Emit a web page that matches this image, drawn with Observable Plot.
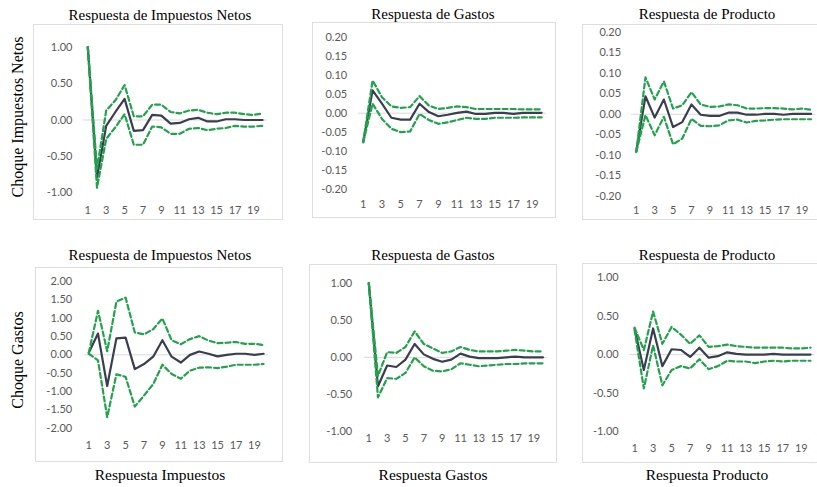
<!DOCTYPE html>
<html>
<head>
<meta charset="utf-8">
<script src="https://cdn.jsdelivr.net/npm/d3@7"></script>
<script src="https://cdn.jsdelivr.net/npm/@observablehq/plot@0.6"></script>
<style>
  html, body { margin: 0; padding: 0; background: #fff; }
  #wrap { position: relative; width: 817px; height: 487px; overflow: hidden; background: #fff; }
  .box { position: absolute; border: 1px solid #dedede; box-sizing: border-box; }
  .plotholder { position: absolute; }
  .title, .rowlab, .collab { position: absolute; font-family: "Liberation Serif", "Times New Roman", serif; color: #000; white-space: nowrap; }
  .title { font-size: 15px; transform: translate(-50%, -50%); }
  .collab { font-size: 15.5px; transform: translate(-50%, -50%); }
  .rowlab { font-size: 16px; transform: translate(-50%, -50%) rotate(-90deg); }
</style>
</head>
<body>
<div id="wrap"></div>
<script>
// ---------- data ----------
const periods = d3.range(1, 21);
const xTickValues = [1, 3, 5, 7, 9, 11, 13, 15, 17, 19];

const titles = ["Respuesta de Impuestos Netos", "Respuesta de Gastos", "Respuesta de Producto",
                "Respuesta de Impuestos Netos", "Respuesta de Gastos", "Respuesta de Producto"];
const rowLabels = ["Choque Impuestos Netos", "Choque Gastos"];
const colLabels = ["Respuesta Impuestos", "Respuesta Gastos", "Respuesta Producto"];

const yTicksA = [-1, -0.5, 0, 0.5, 1];
const yTicksB = [-0.2, -0.15, -0.1, -0.05, 0, 0.05, 0.1, 0.15, 0.2];
const yTicksC = [-2, -1.5, -1, -0.5, 0, 0.5, 1, 1.5, 2];

// Panel 1: shock Impuestos -> Impuestos Netos
const p1Mid = [1.00, -0.79, -0.08, 0.11, 0.29, -0.15, -0.14, 0.07, 0.06, -0.05, -0.04, 0.01, 0.03, -0.02, -0.02, 0.01, 0.01, 0.00, 0.00, 0.00];
const p1Hi  = [1.00, -0.67, 0.13, 0.27, 0.48, 0.05, 0.05, 0.21, 0.21, 0.11, 0.09, 0.13, 0.14, 0.10, 0.08, 0.10, 0.10, 0.08, 0.07, 0.09];
const p1Lo  = [1.00, -0.93, -0.26, -0.10, 0.08, -0.34, -0.34, -0.09, -0.10, -0.19, -0.19, -0.12, -0.11, -0.14, -0.12, -0.11, -0.08, -0.09, -0.09, -0.08];
// Panel 2: shock Impuestos -> Gastos
const p2Mid = [-0.076, 0.060, 0.025, -0.012, -0.017, -0.017, 0.025, 0.003, -0.008, -0.004, 0.001, 0.004, -0.002, -0.002, 0.001, 0.001, -0.002, 0.001, 0.001, 0.001];
const p2Hi  = [-0.076, 0.086, 0.042, 0.018, 0.014, 0.016, 0.045, 0.020, 0.011, 0.014, 0.018, 0.016, 0.011, 0.011, 0.011, 0.011, 0.011, 0.010, 0.010, 0.010];
const p2Lo  = [-0.076, 0.025, -0.015, -0.041, -0.050, -0.048, -0.002, -0.018, -0.028, -0.024, -0.018, -0.012, -0.015, -0.015, -0.012, -0.012, -0.012, -0.011, -0.011, -0.011];
// Panel 3: shock Impuestos -> Producto
const p3Mid = [-0.091, 0.044, -0.008, 0.036, -0.031, -0.019, 0.024, -0.001, -0.004, -0.004, 0.004, 0.004, -0.001, -0.001, 0.001, 0.001, -0.001, 0.001, 0.001, 0.001];
const p3Hi  = [-0.091, 0.090, 0.036, 0.080, 0.014, 0.022, 0.054, 0.024, 0.018, 0.019, 0.024, 0.022, 0.014, 0.014, 0.015, 0.015, 0.014, 0.012, 0.014, 0.011];
const p3Lo  = [-0.091, -0.002, -0.051, -0.006, -0.073, -0.059, -0.011, -0.028, -0.029, -0.027, -0.015, -0.013, -0.020, -0.016, -0.015, -0.013, -0.012, -0.012, -0.012, -0.012];
// Panel 4: shock Gastos -> Impuestos Netos
const p4Mid = [0.06, 0.58, -0.85, 0.45, 0.47, -0.39, -0.25, -0.05, 0.40, -0.05, -0.21, 0.00, 0.09, 0.03, -0.04, 0.00, 0.03, 0.03, 0.00, 0.03];
const p4Hi  = [0.06, 1.20, 0.10, 1.45, 1.56, 0.61, 0.56, 0.70, 0.99, 0.40, 0.29, 0.43, 0.51, 0.39, 0.32, 0.33, 0.35, 0.30, 0.30, 0.27];
const p4Lo  = [0.03, -0.15, -1.70, -0.53, -0.60, -1.41, -1.11, -0.80, -0.27, -0.52, -0.65, -0.43, -0.35, -0.34, -0.36, -0.32, -0.27, -0.27, -0.27, -0.25];
// Panel 5: shock Gastos -> Gastos
const p5Mid = [1.00, -0.39, -0.11, -0.13, -0.03, 0.18, 0.04, -0.02, -0.06, -0.03, 0.05, 0.01, -0.01, -0.01, -0.01, 0.00, 0.01, 0.00, 0.00, 0.00];
const p5Hi  = [1.00, -0.25, 0.07, 0.06, 0.14, 0.35, 0.18, 0.12, 0.06, 0.08, 0.14, 0.10, 0.08, 0.08, 0.08, 0.09, 0.10, 0.09, 0.08, 0.08];
const p5Lo  = [1.00, -0.54, -0.28, -0.29, -0.21, 0.00, -0.12, -0.18, -0.19, -0.16, -0.08, -0.10, -0.12, -0.11, -0.10, -0.09, -0.09, -0.08, -0.08, -0.08];
// Panel 6: shock Gastos -> Producto
const p6Mid = [0.34, -0.20, 0.34, -0.15, 0.07, 0.06, -0.03, 0.09, -0.04, -0.02, 0.03, 0.01, 0.00, 0.00, 0.00, 0.01, 0.00, 0.00, 0.00, 0.00];
const p6Hi  = [0.35, 0.06, 0.56, 0.14, 0.36, 0.26, 0.14, 0.25, 0.10, 0.11, 0.13, 0.11, 0.10, 0.09, 0.09, 0.09, 0.09, 0.08, 0.08, 0.09];
const p6Lo  = [0.32, -0.44, 0.12, -0.40, -0.20, -0.15, -0.18, -0.06, -0.19, -0.15, -0.08, -0.09, -0.09, -0.11, -0.09, -0.08, -0.09, -0.08, -0.08, -0.08];

const series = [
  [p1Mid, p1Hi, p1Lo], [p2Mid, p2Hi, p2Lo], [p3Mid, p3Hi, p3Lo],
  [p4Mid, p4Hi, p4Lo], [p5Mid, p5Hi, p5Lo], [p6Mid, p6Hi, p6Lo]
];
const panelTicks = [yTicksA, yTicksB, yTicksB, yTicksC, yTicksA, yTicksA];

// ---------- layout (pixel geometry) ----------
const layout = [
  {box: [33, 24, 283, 220],  x1: 87.3,  dx: 9.2,  yTop: 46.7,  yBot: 192.3, xLab: 210,   yLabR: 72,    tx: 160, ty: 15},
  {box: [312, 22, 556, 218], x1: 362.7, dx: 9.39, yTop: 36.7,  yBot: 188.7, xLab: 203.3, yLabR: 346.7, tx: 433, ty: 14},
  {box: [582, 24, 818, 220], x1: 636,   dx: 9.24, yTop: 31.7,  yBot: 196.7, xLab: 211,   yLabR: 620.7, tx: 707, ty: 14},
  {box: [35, 267, 283, 462], x1: 88.3,  dx: 9.2,  yTop: 281,   yBot: 427.7, xLab: 445,   yLabR: 71.7,  tx: 160, ty: 255},
  {box: [309, 264, 557, 463],x1: 368.3, dx: 9.17, yTop: 282.7, yBot: 431,   xLab: 437.3, yLabR: 351.7, tx: 433, ty: 255},
  {box: [582, 263, 818, 463],x1: 634.3, dx: 9.3,  yTop: 277.3, yBot: 431.7, xLab: 448.3, yLabR: 618.3, tx: 707, ty: 255}
];
const rowLabPos = [[18, 117], [18, 360]];
const colLabPos = [[160, 475], [433, 475], [707, 475]];

const darkColor = "#3a3e4e";
const greenColor = "#22a24d";

const wrap = document.getElementById("wrap");

function addText(cls, text, x, y) {
  const d = document.createElement("div");
  d.className = cls;
  d.textContent = text;
  d.style.left = x + "px";
  d.style.top = y + "px";
  wrap.appendChild(d);
}

layout.forEach((L, k) => {
  const [bx0, by0, bx1, by1] = L.box;
  const bw = bx1 - bx0, bh = by1 - by0;
  const box = document.createElement("div");
  box.className = "box";
  Object.assign(box.style, {left: bx0 + "px", top: by0 + "px", width: bw + "px", height: bh + "px"});
  wrap.appendChild(box);

  const ticks = panelTicks[k];
  const yMin = ticks[0], yMax = ticks[ticks.length - 1];
  const [mid, hi, lo] = series[k];
  const table = periods.map((p, i) => ({p, mid: mid[i], hi: hi[i], lo: lo[i]}));

  const plotLeft = L.x1 - L.dx / 2;
  const plotRight = L.x1 + 19 * L.dx + L.dx / 2;
  const ml = plotLeft - bx0;
  const mr = bx1 - plotRight;
  const mt = L.yTop - by0;
  const mb = by1 - L.yBot;

  const chart = Plot.plot({
    width: bw, height: bh,
    marginLeft: ml, marginRight: mr, marginTop: mt, marginBottom: mb,
    style: {fontFamily: "Lato, 'Open Sans', sans-serif", fontSize: "11px", color: "#595959", background: "transparent", overflow: "visible"},
    x: {domain: [0.5, 20.5], ticks: xTickValues, tickFormat: d => String(d), tickSize: 0,
        tickPadding: L.xLab - L.yBot - 4, label: null},
    y: {domain: [yMin, yMax], ticks: ticks, tickFormat: d => d.toFixed(2), tickSize: 0,
        tickPadding: plotLeft - L.yLabR, label: null},
    marks: [
      Plot.ruleY([0], {stroke: "#d9d9d9", strokeWidth: 1}),
      Plot.line(table, {x: "p", y: "mid", stroke: darkColor, strokeWidth: 2.2}),
      Plot.line(table, {x: "p", y: "hi", stroke: greenColor, strokeWidth: 2.2, strokeDasharray: "5,3"}),
      Plot.line(table, {x: "p", y: "lo", stroke: greenColor, strokeWidth: 2.2, strokeDasharray: "5,3"})
    ]
  });
  const holder = document.createElement("div");
  holder.className = "plotholder";
  holder.style.left = bx0 + "px";
  holder.style.top = by0 + "px";
  holder.appendChild(chart);
  wrap.appendChild(holder);

  addText("title", titles[k], L.tx, L.ty);
});

rowLabels.forEach((t, i) => addText("rowlab", t, rowLabPos[i][0], rowLabPos[i][1]));
colLabels.forEach((t, i) => addText("collab", t, colLabPos[i][0], colLabPos[i][1]));
</script>
</body>
</html>
